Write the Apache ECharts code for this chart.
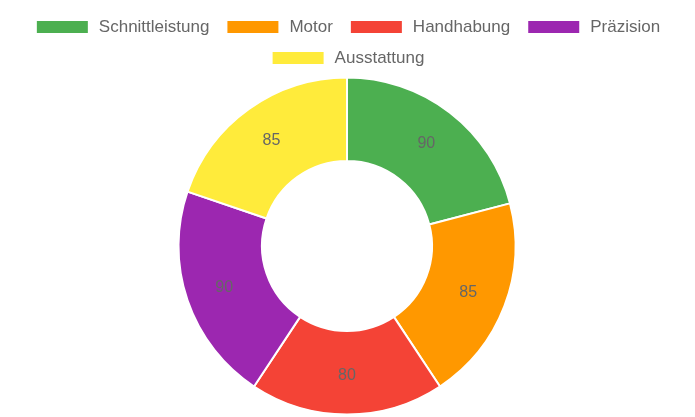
<!DOCTYPE html>
<html>
<head>
<meta charset="utf-8">
<script src="https://cdn.jsdelivr.net/npm/echarts@6/dist/echarts.min.js"></script>
<style>
html,body{margin:0;padding:0;background:#fff;}
#chart{width:695px;height:417px;}
</style>
</head>
<body>
<div id="chart"></div>
<script>
var categories = ['Schnittleistung', 'Motor', 'Handhabung', 'Präzision', 'Ausstattung'];
var values = [90, 85, 80, 90, 85];
var colors = ['#4CAF50', '#FF9800', '#F44336', '#9C27B0', '#FFEB3B'];

var font = 'Liberation Sans, Arial, Helvetica, sans-serif';
var chart = echarts.init(document.getElementById('chart'));
var legendBase = {
  orient: 'horizontal',
  icon: 'rect',
  itemWidth: 53,
  itemHeight: 14,
  itemGap: 16,
  left: 'center',
  textStyle: { color: '#666', fontSize: 17, lineHeight: 20, fontFamily: font, padding: [0, 0, 0, 5] }
};
chart.setOption({
  animation: false,
  color: colors,
  legend: [
    Object.assign({}, legendBase, { top: 12, data: categories.slice(0, 4) }),
    Object.assign({}, legendBase, { top: 43, data: categories.slice(4) })
  ],
  series: [{
    type: 'pie',
    center: [347, 246],
    radius: [85, 168.5],
    startAngle: 90,
    clockwise: true,
    avoidLabelOverlap: false,
    itemStyle: { borderColor: '#fff', borderWidth: 2 },
    label: {
      show: true,
      position: 'inside',
      formatter: '{c}',
      color: '#666',
      fontSize: 16,
      fontFamily: font
    },
    labelLine: { show: false },
    emphasis: { scale: false },
    data: categories.map(function (c, i) { return { name: c, value: values[i] }; })
  }]
});
</script>
</body>
</html>
